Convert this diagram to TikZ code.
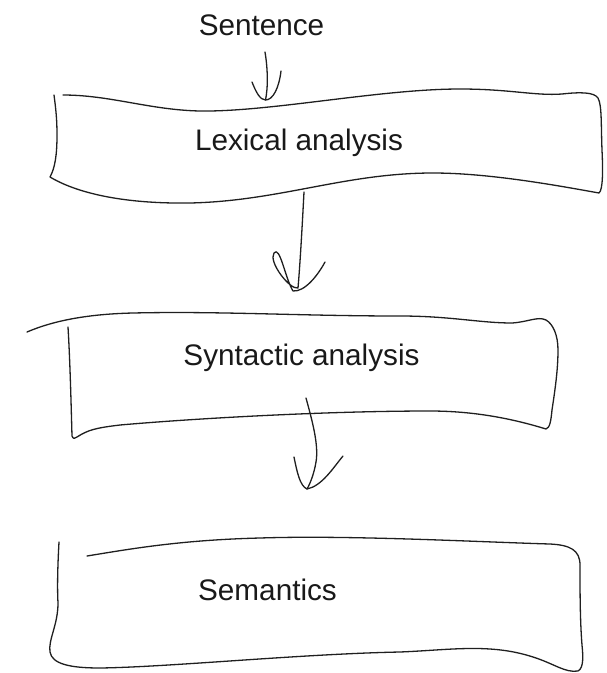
\documentclass[tikz,border=0pt]{standalone}
\usepackage{fontspec}
\setmainfont{Liberation Sans}
\begin{document}
\begin{tikzpicture}[x=1pt,y=-1pt,
  pen/.style={draw=black!88, line width=1.3pt, line cap=round, line join=round},
  lbl/.style={anchor=base, inner sep=0pt, text=black!90, font=\fontsize{29.7}{34}\selectfont}]
\useasboundingbox (0,0) rectangle (607,673);

% texts
\node[lbl] (sentence) at (261.5,35) {Sentence};
\node[lbl] (lex) at (299,150) {Lexical analysis};
\node[lbl] (syn) at (301.5,365) {Syntactic analysis};
\node[lbl] (sem) at (267.5,600) {Semantics};

% box 1
\draw[pen] (54,95) .. controls (56,110) and (57,120) .. (57,135)
  .. controls (57,155) and (55,168) .. (50,177)
  .. controls (75,192) and (120,204) .. (190,203)
  .. controls (280,201) and (345,173) .. (433,173)
  .. controls (490,173) and (560,186) .. (599,193)
  .. controls (603,190) and (603,170) .. (602,150)
  .. controls (601,125) and (602,105) .. (598,98)
  .. controls (594,92) and (580,92) .. (562,94)
  .. controls (535,96) and (510,89) .. (460,89)
  .. controls (380,89) and (270,112) .. (200,111)
  .. controls (150,110) and (110,95) .. (63,95);

% box 2
\draw[pen] (68,327) .. controls (70,360) and (71,400) .. (72,436)
  .. controls (73,439) and (75,439) .. (77,437)
  .. controls (88,430) and (95,428) .. (120,425)
  .. controls (200,418) and (330,411) .. (430,411)
  .. controls (480,411) and (520,421) .. (546,429)
  .. controls (550,428) and (551,420) .. (552,410)
  .. controls (555,390) and (558,370) .. (558,350)
  .. controls (558,335) and (553,324) .. (546,320)
  .. controls (538,316) and (528,322) .. (512,323)
  .. controls (480,323) and (450,316) .. (400,316)
  .. controls (300,316) and (220,311) .. (133,313)
  .. controls (90,314) and (55,320) .. (27,332);

% box 3
\draw[pen] (59,542) .. controls (58,560) and (57,585) .. (58,603)
  .. controls (58,625) and (48,640) .. (50,652)
  .. controls (52,664) and (70,668) .. (100,668)
  .. controls (170,667) and (300,654) .. (400,652)
  .. controls (450,650) and (490,643) .. (533,657)
  .. controls (555,664) and (565,673) .. (578,671)
  .. controls (584,668) and (583,655) .. (582,645)
  .. controls (580,620) and (580,590) .. (580,565)
  .. controls (580,550) and (570,545) .. (550,544)
  .. controls (480,542) and (350,535) .. (260,538)
  .. controls (180,540) and (130,549) .. (87,556);

% arrow 1
\coordinate (a1s) at (265,52);
\coordinate (a1t) at (265.5,100);
\draw[pen] (a1s) .. controls (268,70) and (268,88) .. (a1t);
\draw[pen] (252,82) .. controls (256,92) and (260,100) .. (a1t)
  .. controls (273,100) and (279,88) .. (281,71);

% arrow 2
\coordinate (a2s) at (304,192);
\coordinate (a2t) at (293,291);
\draw[pen] (a2s) .. controls (302,230) and (300,265) .. (298,288)
  .. controls (290,290) and (268,262) .. (274,253)
  .. controls (280,245) and (285,278) .. (a2t)
  .. controls (305,292) and (318,275) .. (325,262);

% arrow 3
\coordinate (a3s) at (306,398);
\coordinate (a3t) at (307,489);
\draw[pen] (a3s) .. controls (312,420) and (319,445) .. (316,462)
  .. controls (314,474) and (310,484) .. (a3t);
\draw[pen] (294,457) .. controls (297,472) and (300,486) .. (a3t)
  .. controls (322,486) and (333,468) .. (343,456);
\end{tikzpicture}
\end{document}
